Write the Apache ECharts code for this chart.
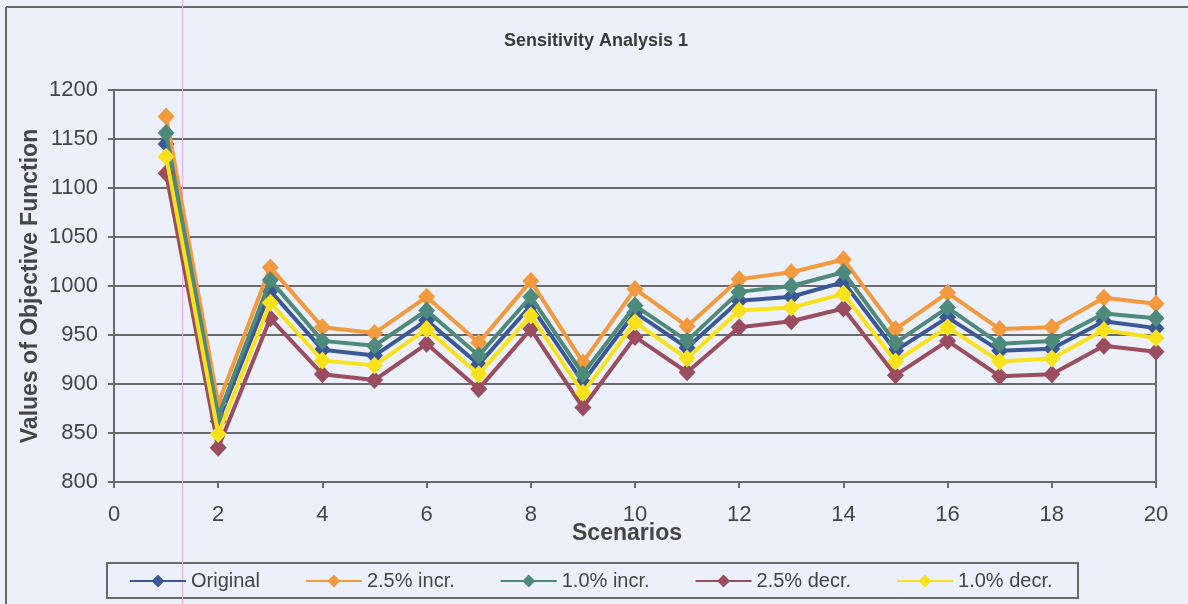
<!DOCTYPE html>
<html>
<head>
<meta charset="utf-8">
<script src="https://cdn.jsdelivr.net/npm/echarts@6/dist/echarts.min.js"></script>
<style>
  html, body { margin: 0; padding: 0; background: #ebf0fb; }
  #chart { width: 1188px; height: 604px; }
</style>
</head>
<body>
<div id="chart"></div>
<script>
// Scenario numbers on the x axis
const scenarios = [1, 2, 3, 4, 5, 6, 7, 8, 9, 10, 11, 12, 13, 14, 15, 16, 17, 18, 19, 20];

// Objective function values per scenario
const original   = [1145, 862, 995, 935, 929, 965, 920, 980, 902, 973, 937, 985, 989, 1004, 934, 968, 934, 936, 964, 957];
const incr25     = [1173, 880, 1019, 958, 952, 989, 942, 1005, 922, 997, 959, 1007, 1014, 1027, 956, 993, 956, 958, 988, 982];
const incr10     = [1156, 867, 1006, 944, 939, 975, 929, 989, 910, 980, 944, 994, 1000, 1014, 942, 978, 941, 944, 972, 967];
const decr25     = [1115, 835, 967, 910, 904, 941, 895, 956, 876, 948, 912, 958, 964, 977, 909, 944, 908, 910, 939, 933];
const decr10     = [1132, 849, 983, 924, 919, 956, 910, 970, 891, 963, 926, 975, 978, 992, 923, 958, 923, 926, 955, 947];

const seriesNames = ['Original', '2.5% incr.', '1.0% incr.', '2.5% decr.', '1.0% decr.'];
const seriesValues = [original, incr25, incr10, decr25, decr10];
const seriesColors = ['#3b5896', '#f39a3e', '#4d8a7c', '#9a4d5e', '#f9e21c'];

const gridColor = '#6a6a6a';
const textColor = '#454545';
const font = 'Liberation Sans, Arial, sans-serif';

const chart = echarts.init(document.getElementById('chart'));

const series = seriesNames.map((name, i) => ({
  name: name,
  type: 'line',
  data: scenarios.map((x, j) => [x, seriesValues[i][j]]),
  symbol: 'diamond',
  symbolSize: [17, 18],
  lineStyle: { color: seriesColors[i], width: 4 },
  itemStyle: { color: seriesColors[i] },
  z: 2 + i,
  animation: false
}));

chart.setOption({
  backgroundColor: '#ebf0fb',
  animation: false,
  title: {
    text: 'Sensitivity Analysis 1',
    left: 591,
    textAlign: 'center',
    top: 27,
    textStyle: { fontFamily: font, fontSize: 18, fontWeight: 'bold', color: '#3a3a3a' }
  },
  grid: { left: 114, right: 32, top: 90, bottom: 122, show: true, borderColor: gridColor, borderWidth: 2 },
  xAxis: {
    type: 'value',
    min: 0, max: 20, interval: 2,
    name: 'Scenarios',
    nameLocation: 'middle',
    nameGap: 40,
    nameMoveOverlap: false,
    nameTextStyle: { fontFamily: font, fontSize: 23, fontWeight: 'bold', color: textColor, padding: [0, 16, 0, 0] },
    axisLine: { lineStyle: { color: gridColor, width: 2 } },
    axisTick: { show: true, inside: false, length: 6, lineStyle: { color: gridColor, width: 2 } },
    axisLabel: { fontFamily: font, fontSize: 22, color: textColor, margin: 22 },
    splitLine: { show: false }
  },
  yAxis: {
    type: 'value',
    min: 800, max: 1200, interval: 50,
    name: 'Values of Objective Function',
    nameLocation: 'middle',
    nameGap: 72,
    nameMoveOverlap: false,
    nameTextStyle: { fontFamily: font, fontSize: 23, fontWeight: 'bold', color: textColor },
    axisLine: { show: true, lineStyle: { color: gridColor, width: 2 } },
    axisTick: { show: true, inside: false, length: 6, lineStyle: { color: gridColor, width: 2 } },
    axisLabel: { fontFamily: font, fontSize: 22, color: textColor, margin: 16, formatter: (v) => String(v) },
    splitLine: { show: true, lineStyle: { color: gridColor, width: 2 } }
  },
  legend: {
    data: seriesNames,
    left: 129,
    top: 571,
    padding: 0,
    itemWidth: 56,
    itemHeight: 16,
    itemGap: 45,
    textStyle: { fontFamily: font, fontSize: 20, color: textColor }
  },
  graphic: [
    // outer chart frame
    { type: 'line', shape: { x1: 6, y1: 7, x2: 1188, y2: 7 }, style: { stroke: '#6a6a6a', lineWidth: 2 }, z: 1 },
    { type: 'line', shape: { x1: 6, y1: 7, x2: 6, y2: 604 }, style: { stroke: '#6a6a6a', lineWidth: 2 }, z: 1 },
    // legend frame
    { type: 'rect', shape: { x: 107, y: 563, width: 971, height: 35 }, style: { fill: 'none', stroke: '#6a6a6a', lineWidth: 2 }, z: 1 },
    // thin pink vertical rule
    { type: 'line', shape: { x1: 182.5, y1: 0, x2: 182.5, y2: 604 }, style: { stroke: '#f0a8f0', lineWidth: 1 }, z: 1 }
  ],
  series: series
});
</script>
</body>
</html>
